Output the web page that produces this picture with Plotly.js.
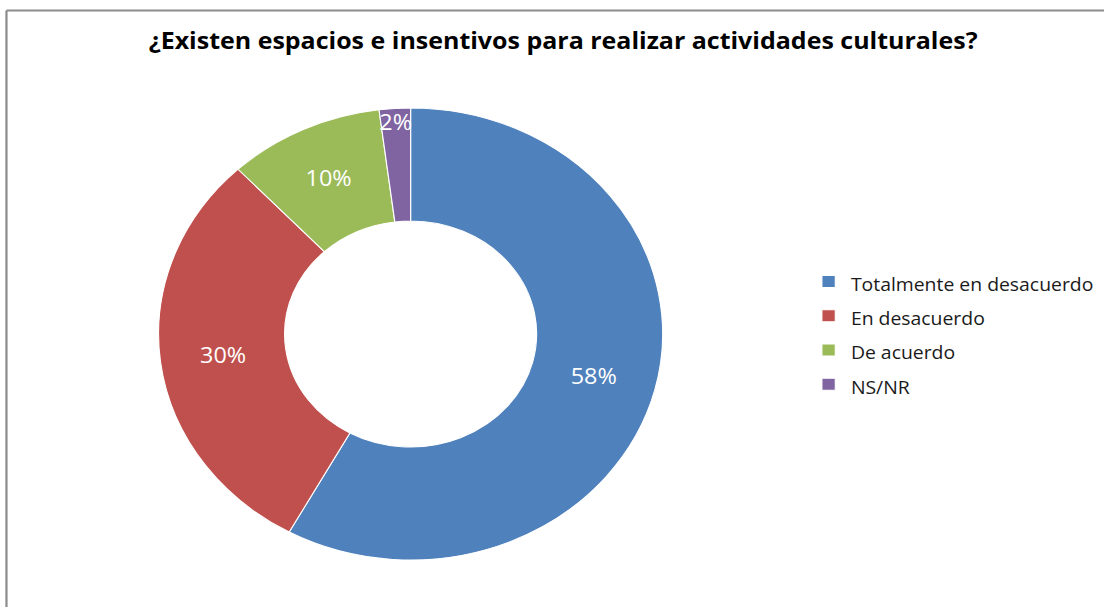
<!DOCTYPE html>
<html>
<head>
<meta charset="utf-8">
<script src="https://cdn.plot.ly/plotly-3.0.1.min.js"></script>
<style>
html,body{margin:0;padding:0;background:#fff;overflow:hidden;width:1104px;height:607px;}
#chart{width:990px;height:607px;transform:scaleX(1.1152);transform-origin:0 0;}
</style>
</head>
<body>
<div id="chart"></div>
<script>
var categories = ["Totalmente en desacuerdo", "En desacuerdo", "De acuerdo", "NS/NR"];
var values = [58, 30, 10, 2];
var colors = ["#4F81BD", "#C0504D", "#9BBB59", "#8064A2"];
var chartTitle = "¿Existen espacios e insentivos para realizar actividades culturales?";

var W = 990, H = 607;           // drawing size before the horizontal stretch
var cx = 368.2, cy = 334, R = 226;
var legendLabels = categories.map(function(c){ return '<span style="font-size:17.4px">' + c + '</span>'; });

var trace = {
  type: 'pie',
  labels: legendLabels,
  values: values,
  sort: false,
  direction: 'clockwise',
  rotation: 0,
  hole: 0.5,
  marker: {colors: colors, line: {color: '#ffffff', width: 1}},
  textinfo: 'percent',
  textposition: 'inside',
  insidetextorientation: 'horizontal',
  textfont: {family: 'Open Sans, sans-serif', size: 21, color: '#ffffff'},
  domain: {x: [(cx-R)/W, (cx+R)/W], y: [1-(cy+R)/H, 1-(cy-R)/H]},
  hoverinfo: 'label+percent'
};

var layout = {
  width: W, height: H,
  margin: {l: 0, r: 0, t: 0, b: 0},
  paper_bgcolor: '#ffffff',
  title: {
    text: '<b>' + chartTitle + '</b>',
    font: {family: 'Open Sans, sans-serif', size: 22.4, color: '#000000'},
    x: 505/W, xanchor: 'center', xref: 'paper',
    y: 1-41/H, yanchor: 'middle', yref: 'paper'
  },
  showlegend: true,
  legend: {
    x: 723/W, xanchor: 'left',
    y: 1-333/H, yanchor: 'middle',
    font: {family: 'Open Sans, sans-serif', size: 24, color: '#1a1a1a'},
    bgcolor: 'rgba(0,0,0,0)'
  },
  uniformtext: {minsize: 21, mode: 'show'},
  shapes: [
    {type: 'line', xref: 'paper', yref: 'paper', x0: 5.8/W, x1: 1, y0: 1-10.5/H, y1: 1-10.5/H, line: {color: '#8c8c8c', width: 2}},
    {type: 'line', xref: 'paper', yref: 'paper', x0: 5.8/W, x1: 5.8/W, y0: 0, y1: 1-10.5/H, line: {color: '#8c8c8c', width: 2}}
  ]
};

Plotly.newPlot('chart', [trace], layout, {displayModeBar: false, staticPlot: true});
</script>
</body>
</html>
